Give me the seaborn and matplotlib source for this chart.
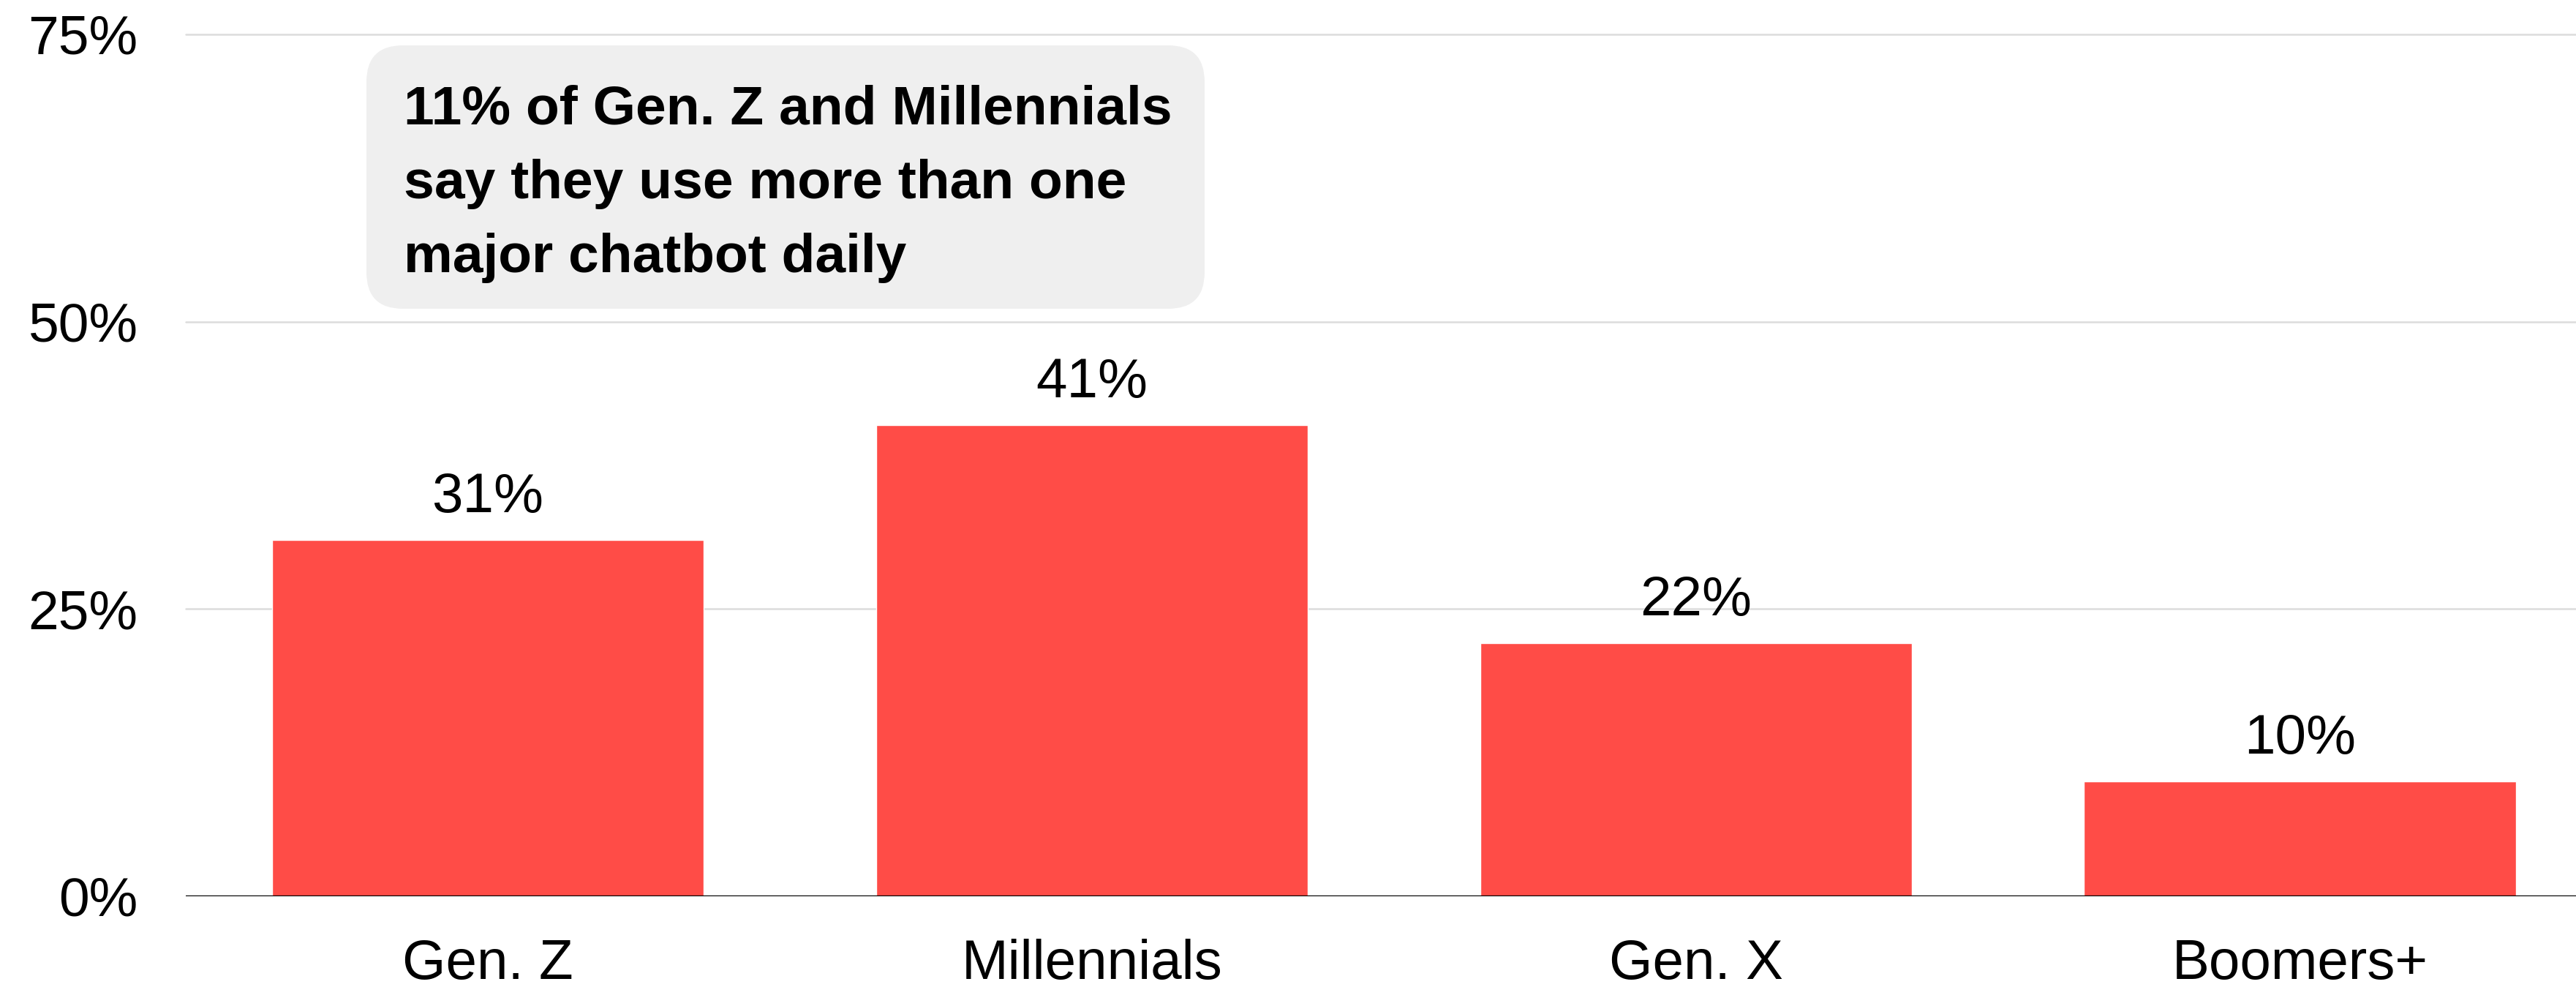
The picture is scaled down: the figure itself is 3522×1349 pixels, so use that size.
import matplotlib
matplotlib.use("Agg")
import matplotlib.pyplot as plt
from matplotlib.patches import FancyBboxPatch
import seaborn as sns
import pandas as pd

# Share of each generation using a major chatbot daily (%)
generations = ["Gen. Z", "Millennials", "Gen. X", "Boomers+"]
daily_use = [31, 41, 22, 10]
y_ticks = [0, 25, 50, 75]
y_tick_labels = ["0%", "25%", "50%", "75%"]
callout = "11% of Gen. Z and Millennials\nsay they use more than one\nmajor chatbot daily"

BAR_RED = "#FF4C47"
GRID_GREY = "#DCDCDC"
BOX_GREY = "#EFEFEF"

sns.set_theme(style="white")
plt.rcParams["font.family"] = ["Liberation Sans", "DejaVu Sans"]

W, H, DPI = 3523, 1349, 100
fig = plt.figure(figsize=(W / DPI, H / DPI), dpi=DPI)
ax = fig.add_axes([254 / W, 1 - 1225 / H, 1 - 254 / W, (1225 - 47) / H])

df = pd.DataFrame({"generation": generations, "share": daily_use})
sns.barplot(data=df, x="generation", y="share", color=BAR_RED, saturation=1,
            width=0.715, ax=ax, zorder=2)

ax.set_xlim(-0.5, 3.458)
ax.set_ylim(0, 75)
ax.set_yticks(y_ticks)
ax.set_yticklabels(y_tick_labels)
ax.set_xlabel("")
ax.set_ylabel("")

# horizontal guides; the baseline is solid black and sits over the bars
for t in y_ticks[1:]:
    ax.axhline(t, color=GRID_GREY, lw=1.8, zorder=0, clip_on=False)
ax.axhline(0, color="black", lw=2.4, zorder=4)

for s in ax.spines.values():
    s.set_visible(False)
ax.tick_params(axis="both", length=0, labelsize=55, colors="black")
ax.tick_params(axis="y", labelsize=54, pad=47)
ax.tick_params(axis="x", pad=42)

for cont in ax.containers:
    ax.bar_label(cont, labels=[f"{v}%" for v in daily_use], padding=16,
                 fontsize=55, color="black")

# rounded call-out box in the upper left
box = FancyBboxPatch((5.01, (H - 422) / DPI), 11.46, 3.60,
                     boxstyle="round,pad=0,rounding_size=0.5",
                     transform=fig.dpi_scale_trans, facecolor=BOX_GREY,
                     edgecolor="none", zorder=5)
fig.add_artist(box)
fig.text(5.52, (H - 372) / DPI, callout, transform=fig.dpi_scale_trans,
         fontsize=54, fontweight="bold", va="baseline", ha="left",
         linespacing=1.6, color="black", zorder=6)

fig.savefig("out.png", dpi=DPI, facecolor="white")
